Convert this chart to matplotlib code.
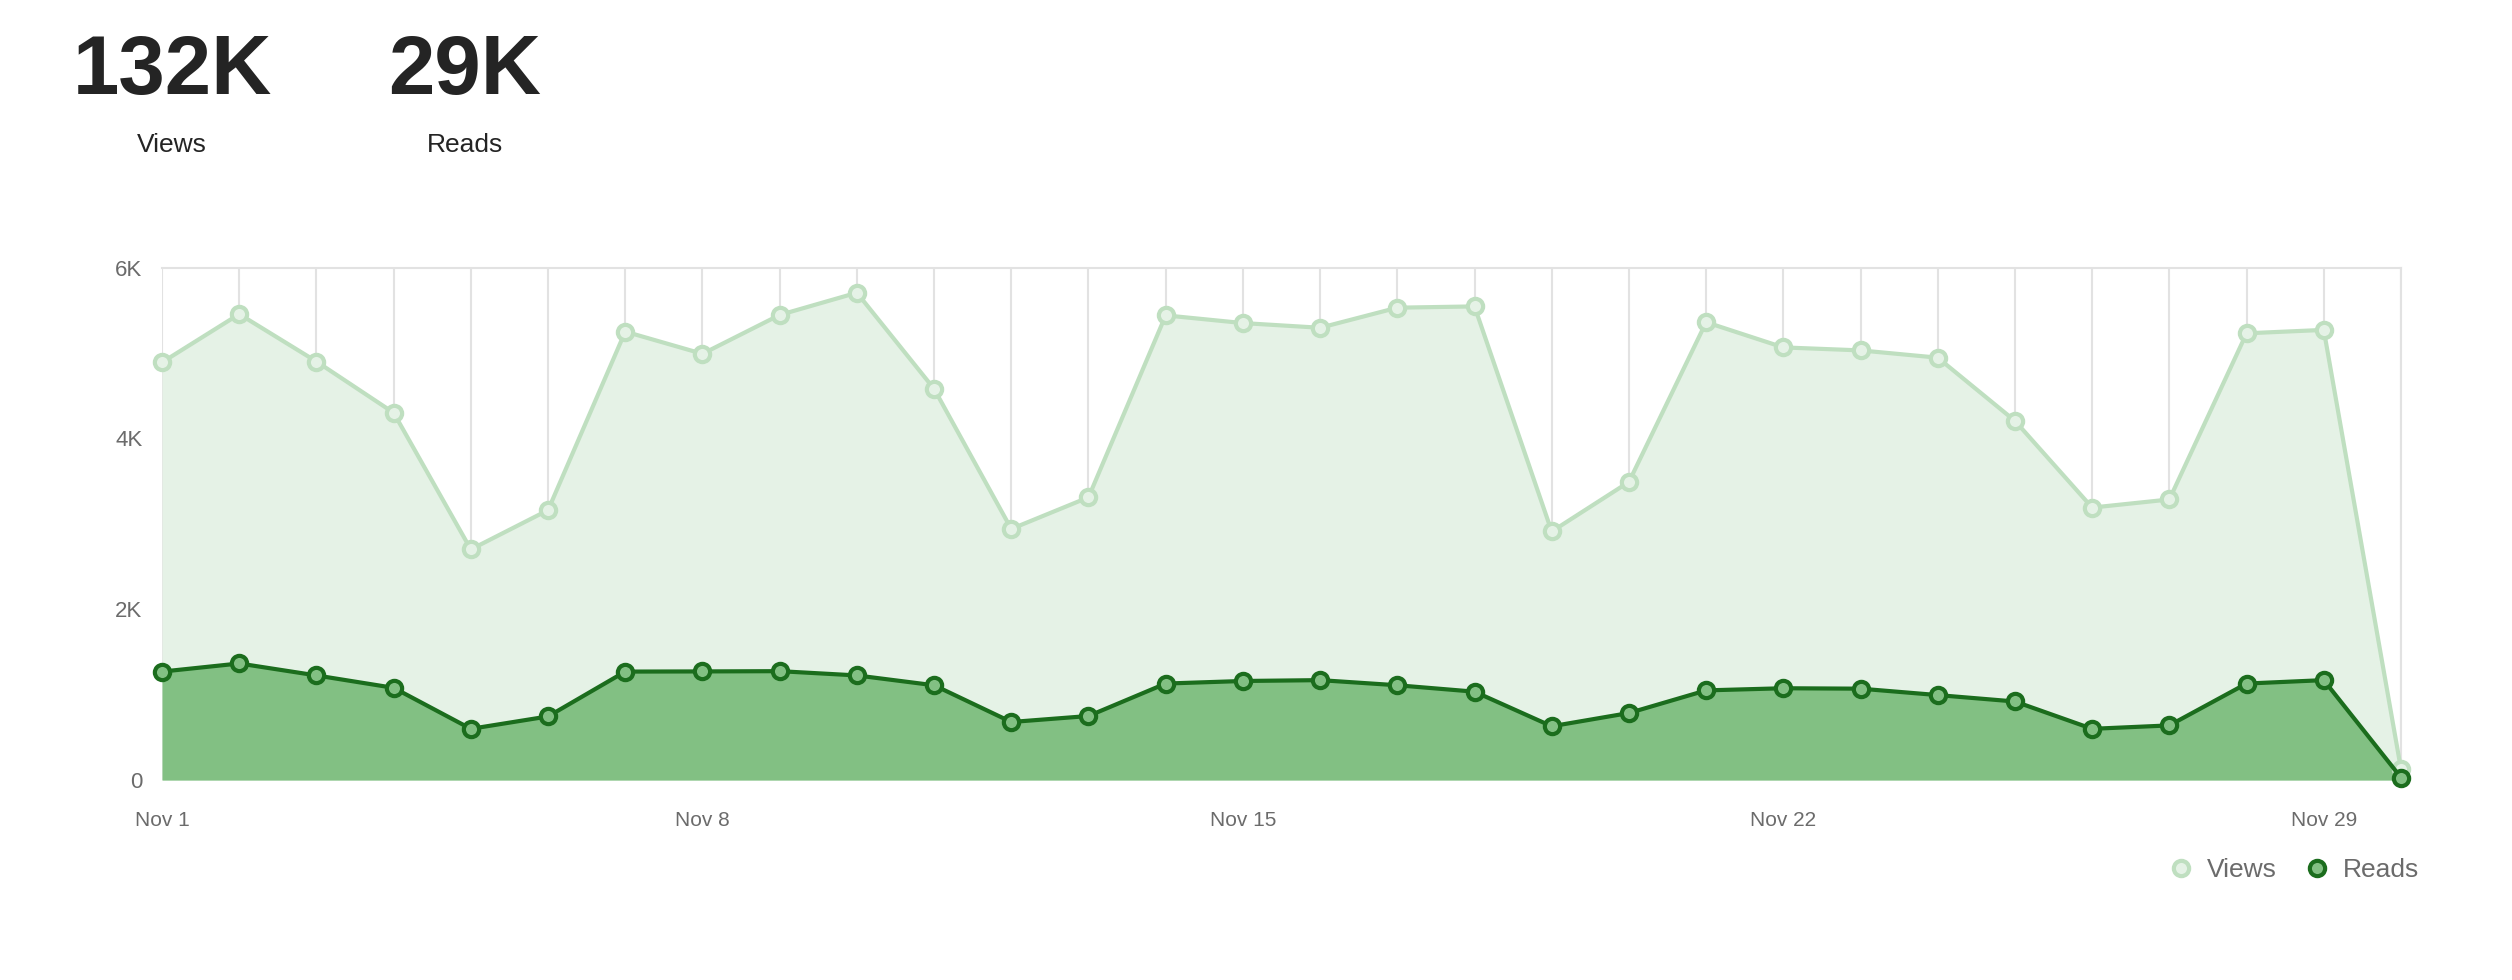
import matplotlib
matplotlib.use("Agg")
from matplotlib import pyplot as plt
from matplotlib.lines import Line2D

# daily stats for November
days = list(range(1, 31))
views = [4890, 5455, 4900, 4300, 2700, 3160, 5250, 4990, 5445, 5705,
         4580, 2940, 3310, 5440, 5350, 5295, 5530, 5545, 2910, 3490,
         5360, 5065, 5030, 4945, 4205, 3190, 3285, 5230, 5270, 130]
reads = [1270, 1365, 1225, 1080, 600, 745, 1270, 1272, 1275, 1225,
         1110, 680, 750, 1130, 1160, 1170, 1110, 1035, 630, 785,
         1050, 1075, 1070, 995, 920, 600, 640, 1130, 1170, 30]
tick_days = [1, 8, 15, 22, 29]
y_ticks = [0, 2000, 4000, 6000]
y_labels = ["0", "2K", "4K", "6K"]
total_views = "132K"
total_reads = "29K"

plt.rcParams['font.family'] = ['Liberation Sans', 'DejaVu Sans']

views_line = '#bfdfc0'
views_fill = '#e5f2e6'
reads_line = '#1b6d1d'
reads_fill = '#82c083'
grid_col = '#e2e2e2'
tick_col = '#6b6b6b'

fig = plt.figure(figsize=(25.12, 9.8), dpi=100)
ax = fig.add_axes([0.0645, 0.204, 0.8913, 0.523])

ax.fill_between(days, 0, views, color=views_fill, lw=0, zorder=1)
ax.plot(days, views, color=views_line, lw=3, marker='o', ms=11,
        mfc=views_fill, mec=views_line, mew=3, zorder=3, clip_on=False)
ax.fill_between(days, 0, reads, color=reads_fill, lw=0, zorder=2)
ax.plot(days, reads, color=reads_line, lw=3, marker='o', ms=11,
        mfc=reads_fill, mec=reads_line, mew=3, zorder=4, clip_on=False)

ax.set_xlim(1, 30)
ax.set_ylim(0, 6000)
ax.set_xticks(days)
ax.set_xticklabels(["Nov {}".format(d) if d in tick_days else "" for d in days])
ax.set_yticks(y_ticks)
ax.set_yticklabels(y_labels)
ax.tick_params(axis='both', length=0, labelsize=15, labelcolor=tick_col)
ax.tick_params(axis='y', labelsize=16, pad=14)
ax.tick_params(axis='x', pad=22)
ax.grid(axis='x', color=grid_col, lw=1.5, zorder=0)
ax.set_axisbelow(True)
for side in ['left', 'bottom']:
    ax.spines[side].set_visible(False)
for side in ['top', 'right']:
    ax.spines[side].set_color(grid_col)
    ax.spines[side].set_linewidth(1.5)

# header totals
big = dict(fontsize=60, fontweight='bold', color='#242424', ha='center',
           va='baseline')
fig.text(172 / 2512, 1 - 94 / 980, total_views, **big)
fig.text(465 / 2512, 1 - 94 / 980, total_reads, **big)
fig.text(172 / 2512, 1 - 152 / 980, "Views", fontsize=19, color='#242424', ha='center', va='baseline')
fig.text(465 / 2512, 1 - 152 / 980, "Reads", fontsize=19, color='#242424', ha='center', va='baseline')

handles = [
    Line2D([], [], ls='none', marker='o', ms=11, mfc=views_fill, mec=views_line, mew=3),
    Line2D([], [], ls='none', marker='o', ms=11, mfc=reads_fill, mec=reads_line, mew=3),
]
fig.legend(handles, ["Views", "Reads"], loc='center right',
           bbox_to_anchor=(2443 / 2512, 1 - 870 / 980), ncol=2, frameon=False,
           fontsize=19, labelcolor=tick_col, handletextpad=0.5, columnspacing=1.0,
           handlelength=1.0)

fig.savefig('out.png', dpi=100, facecolor='white')
